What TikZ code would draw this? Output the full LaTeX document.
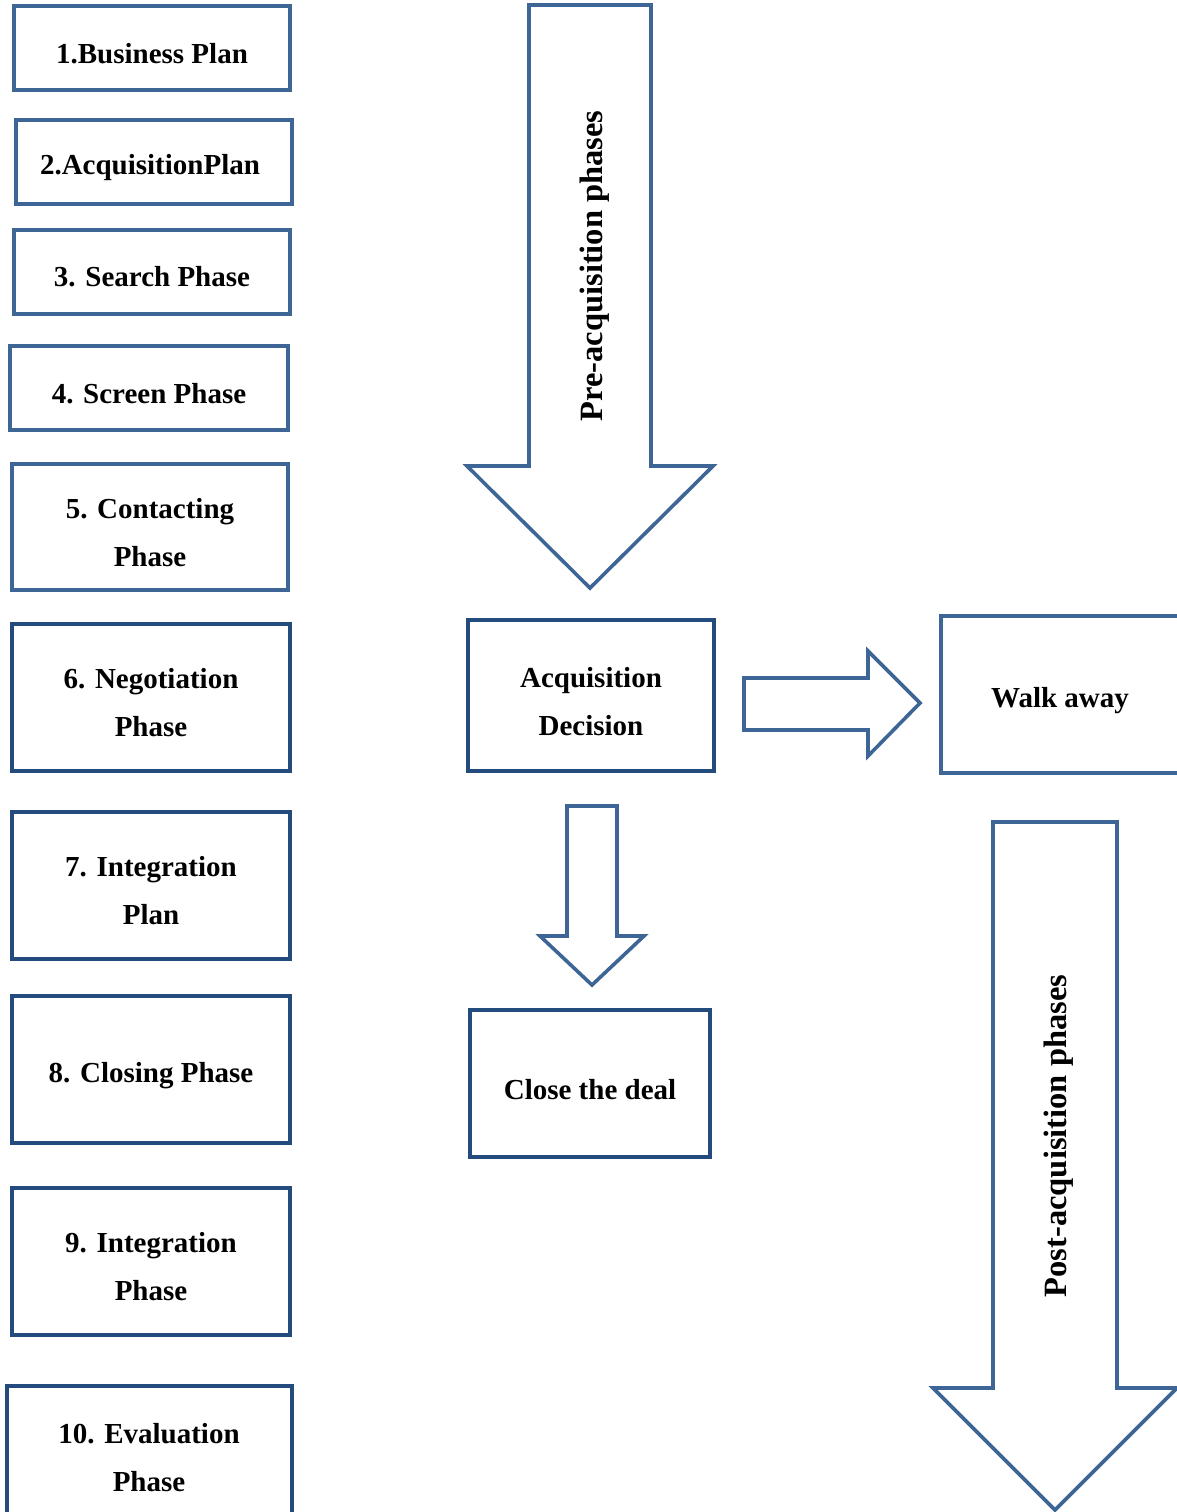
\documentclass[tikz,border=0pt]{standalone}
\usepackage{fontspec}
\setmainfont{Liberation Serif}
\definecolor{bluelight}{HTML}{3D6697}
\definecolor{bluedark}{HTML}{244B7E}
\begin{document}
\begin{tikzpicture}[x=1pt,y=-1pt,
  phasebox/.style={draw=bluelight,line width=3.6pt,fill=white,inner sep=0pt,align=center,
    font=\fontsize{29}{48}\selectfont\bfseries},
  darkbox/.style={phasebox,draw=bluedark},
  blockarrow/.style={draw=bluelight,line width=3.6pt,fill=white,line join=miter},
  lbl/.style={font=\fontsize{29}{48}\selectfont\bfseries,align=center},
  rlbl/.style={font=\fontsize{32.5}{40}\selectfont\bfseries,rotate=90}]
\useasboundingbox (0,0) rectangle (1177,1512);
\clip (0,0) rectangle (1177,1512);
% left column boxes
\draw[phasebox] (14,6) rectangle (290,90);
\node[lbl] (b1) at (152,54) {1.Business Plan};
\draw[phasebox] (16,120) rectangle (292,204);
\node[lbl] (b2) at (150,168) {2.AcquisitionPlan};
\draw[phasebox] (14,230) rectangle (290,314);
\node[lbl] (b3) at (152,277) {3. Search Phase};
\draw[phasebox] (10,346) rectangle (288,430);
\node[lbl] (b4) at (149,394) {4. Screen Phase};
\draw[phasebox] (12,464) rectangle (288,590);
\node[lbl] (b5) at (150,533) {5. Contacting\\Phase};
\draw[darkbox] (12,624) rectangle (290,771);
\node[lbl] (b6) at (151,703) {6. Negotiation\\Phase};
\draw[darkbox] (12,812) rectangle (290,959);
\node[lbl] (b7) at (151,891) {7. Integration\\Plan};
\draw[darkbox] (12,996) rectangle (290,1143);
\node[lbl] (b8) at (151,1076) {8. Closing Phase};
\draw[darkbox] (12,1188) rectangle (290,1335);
\node[lbl] (b9) at (151,1267) {9. Integration\\Phase};
\draw[darkbox] (7,1386) rectangle (292,1540);
\node[lbl] (b10) at (149,1458) {10. Evaluation\\Phase};
% pre-acquisition arrow
\draw[blockarrow] (529,5) -- (651,5) -- (651,466) -- (713,466) -- (590,588) -- (467,466) -- (529,466) -- cycle;
\node[rlbl] (pre) at (595,266) {Pre-acquisition phases};
% decision box
\draw[darkbox] (468,620) rectangle (714,771);
\node[lbl] (dec) at (591,702) {Acquisition\\Decision};
% right arrow
\draw[blockarrow] (744,678) -- (868,678) -- (868,651) -- (920,703) -- (868,756) -- (868,730) -- (744,730) -- cycle;
% walk away
\draw[phasebox] (941,616) rectangle (1190,773);
\node[lbl] (walk) at (1060,701) {Walk away};
% small down arrow
\draw[blockarrow] (567,806) -- (617,806) -- (617,936) -- (644,936) -- (592,985) -- (540,936) -- (567,936) -- cycle;
% close the deal
\draw[darkbox] (470,1010) rectangle (710,1157);
\node[lbl] (close) at (590,1090) {Close the deal};
% post-acquisition arrow
\draw[blockarrow] (993,822) -- (1117,822) -- (1117,1388) -- (1177,1388) -- (1055,1510) -- (933,1388) -- (993,1388) -- cycle;
\node[rlbl] (post) at (1059,1136) {Post-acquisition phases};
\end{tikzpicture}
\end{document}
